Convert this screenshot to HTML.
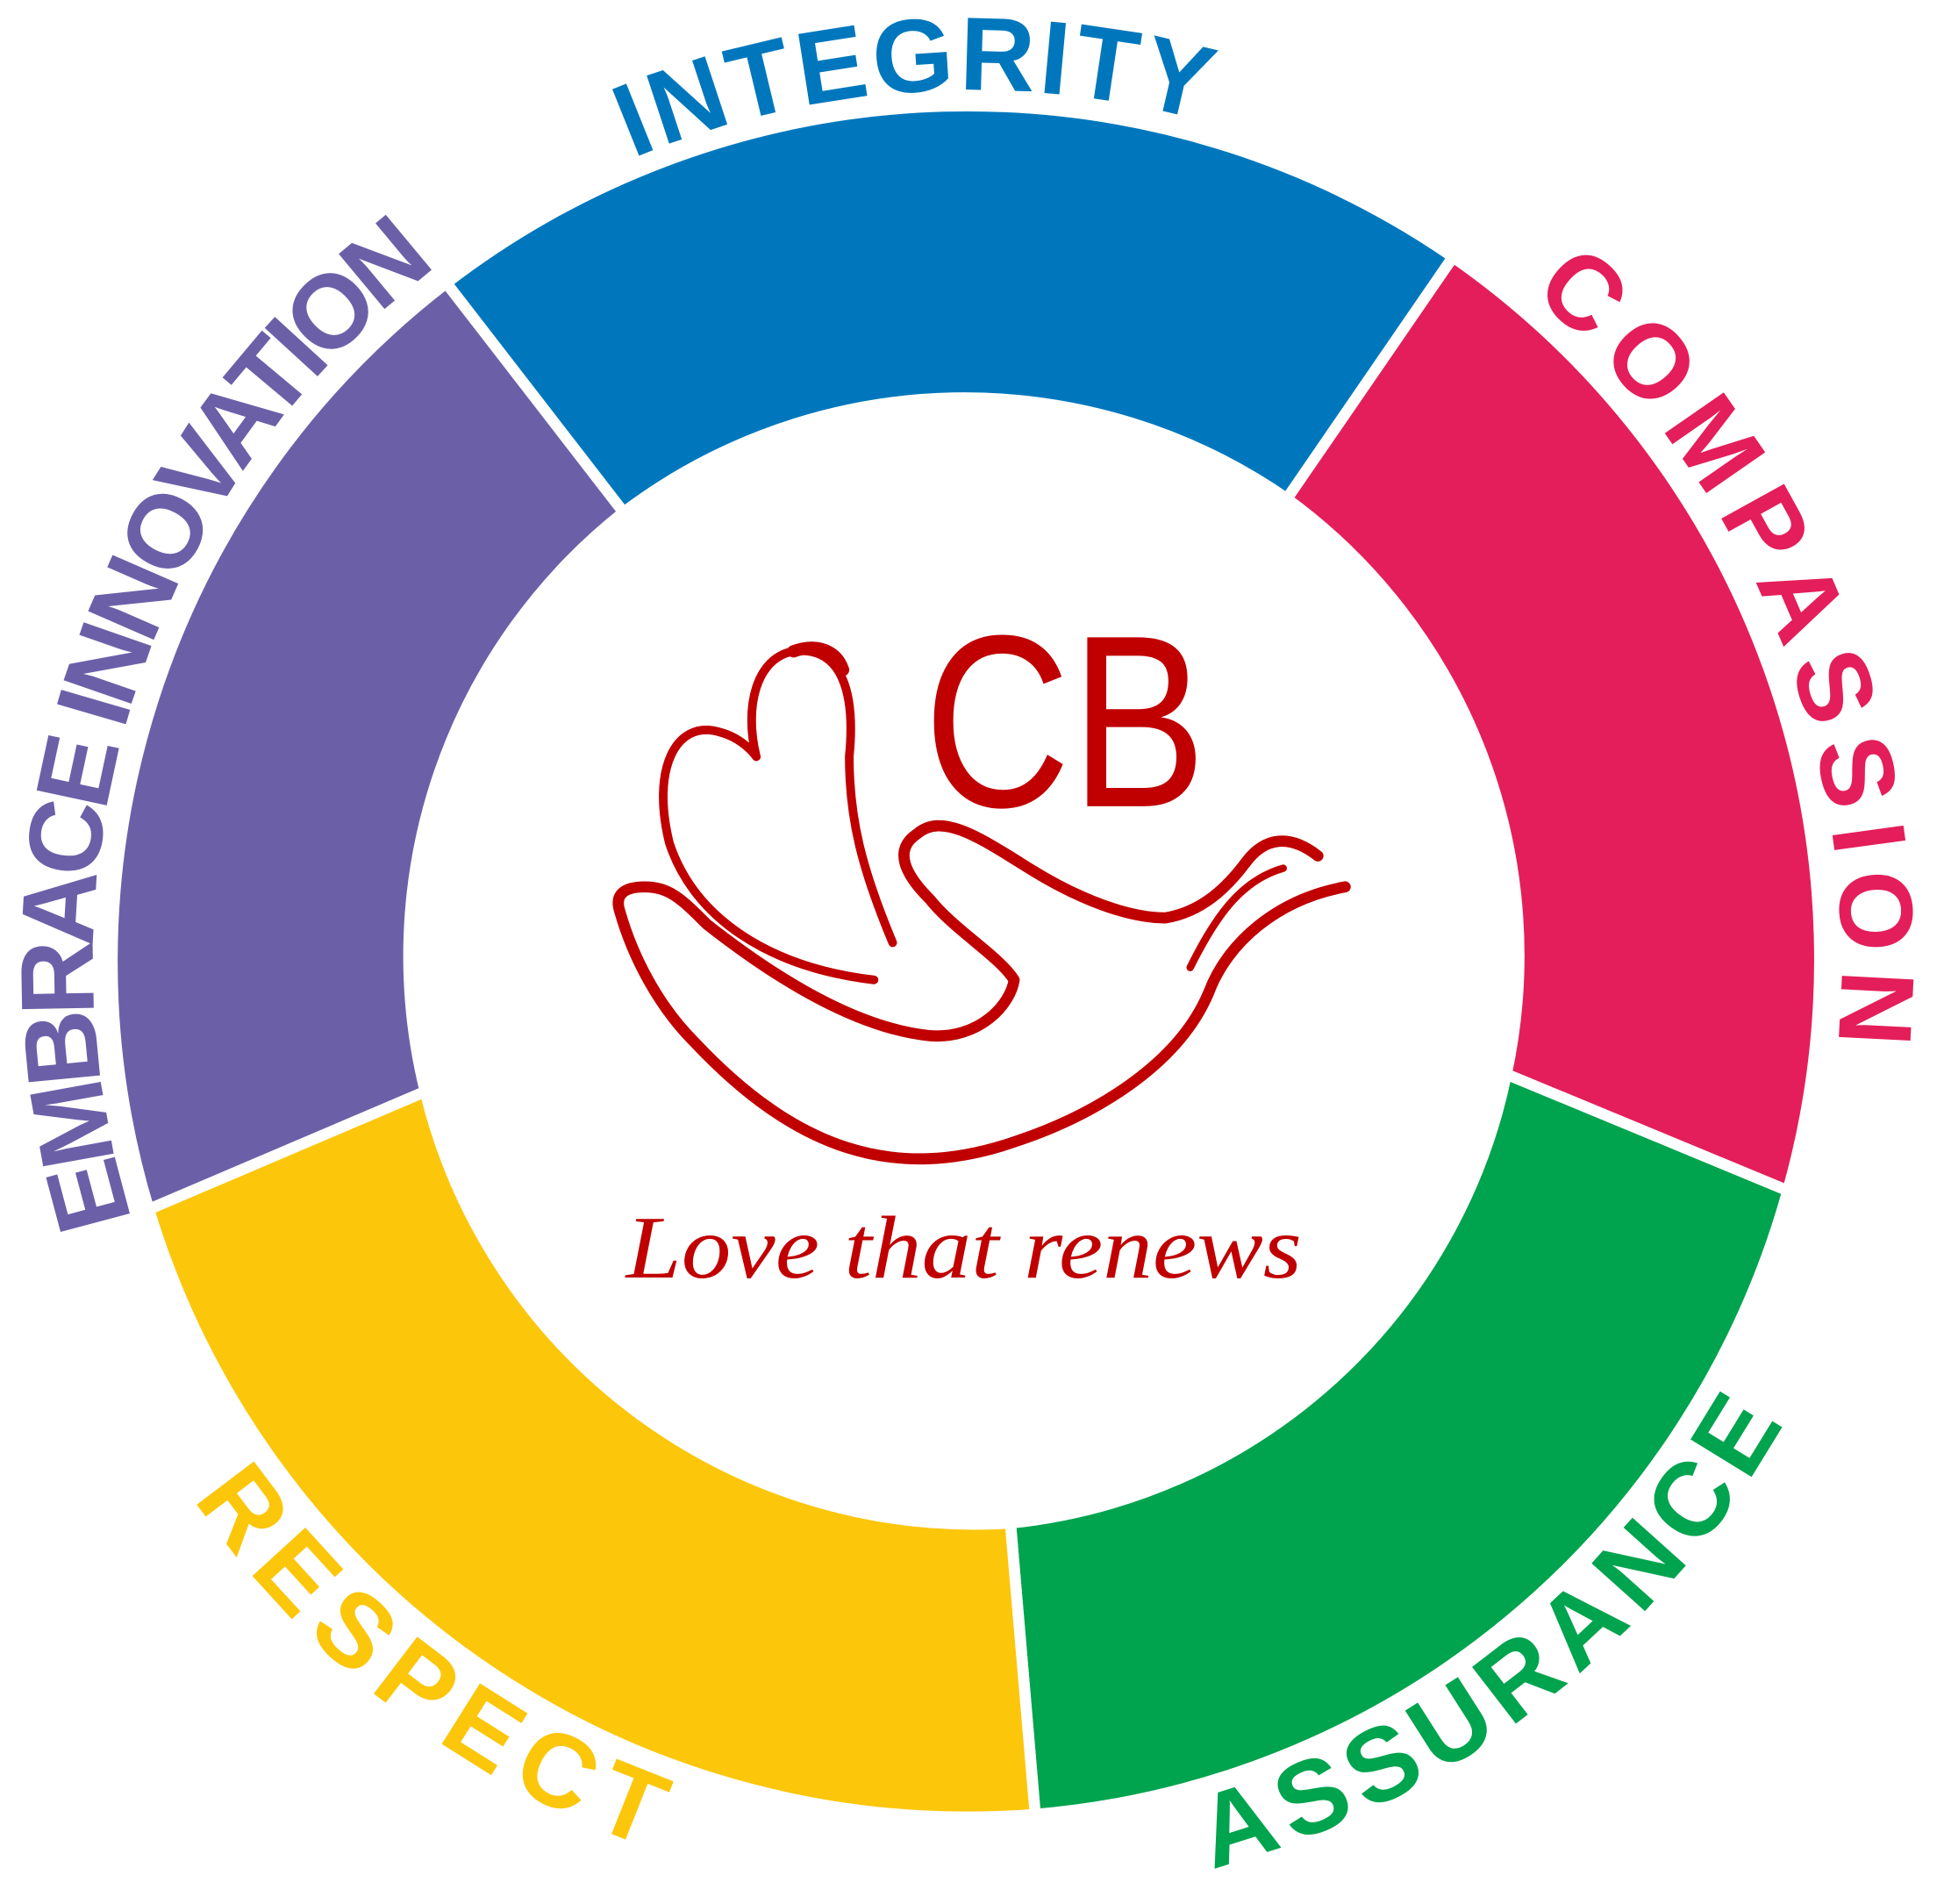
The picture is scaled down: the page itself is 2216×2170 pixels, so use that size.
<!DOCTYPE html>
<html><head><meta charset="utf-8"><style>
html,body{margin:0;padding:0;background:#fff;}
svg{display:block;}
.lbl{font-family:"Liberation Sans",Arial,sans-serif;font-weight:bold;font-size:84px;}
</style></head><body>
<svg width="2216" height="2170" viewBox="0 0 1568 1535" xmlns="http://www.w3.org/2000/svg">
<g stroke="#fff" stroke-width="9" stroke-linejoin="miter">
<path fill="#0077bd" d="M 360 228 A 690 690 0 0 1 1172 207 L 1038 402 A 456 456 0 0 0 503 413 Z"/>
<path fill="#e41e5a" d="M 1172 207 A 690 690 0 0 1 1442 960 L 1215 866 A 456 456 0 0 0 1038 402 Z"/>
<path fill="#00a34e" d="M 1442 960 A 690 690 0 0 1 835 1463 L 815 1228 A 456 456 0 0 0 1215 866 Z"/>
<path fill="#fcc60b" d="M 835 1463 A 690 690 0 0 1 120 975 L 343 880 A 456 456 0 0 0 815 1228 Z"/>
<path fill="#6b60a8" d="M 120 975 A 690 690 0 0 1 360 228 L 503 413 A 456 456 0 0 0 343 880 Z"/>
</g>
<g class="lbl">
<path id="a1" fill="none" d="M 202.5 378.7 A 705 705 0 0 1 1308.7 306.5"/>
<text fill="#0077bd"><textPath href="#a1" startOffset="50%" text-anchor="middle" textLength="470" lengthAdjust="spacing">INTEGRITY</textPath></text>
<path id="a2" fill="none" d="M 1011.5 109.1 A 705 705 0 0 1 1473.8 902.5"/>
<text fill="#e41e5a" transform="rotate(8 780 775)"><textPath href="#a2" startOffset="50%" text-anchor="middle" textLength="680" lengthAdjust="spacing">COMPASSION</textPath></text>
<path id="a3" fill="none" d="M 332.1 1319.4 A 705 705 0 0 1 622.0 88.0"/>
<text fill="#6b60a8" transform="rotate(4.5 780 775)"><textPath href="#a3" startOffset="50%" text-anchor="middle" textLength="860" lengthAdjust="spacing">EMBRACE INNOVATION</textPath></text>
<path id="a4" fill="none" d="M 20.6 803.5 A 760 760 0 0 0 948.9 1515.9"/>
<text fill="#fcc60b"><textPath href="#a4" startOffset="50%" text-anchor="middle" textLength="470" lengthAdjust="spacing">RESPECT</textPath></text>
<path id="a5" fill="none" d="M 420.7 1444.7 A 760 760 0 0 0 1530.2 670.5"/>
<text fill="#00a34e" transform="rotate(-3 780 775)"><textPath href="#a5" startOffset="50%" text-anchor="middle" textLength="600" lengthAdjust="spacing">ASSURANCE</textPath></text>
</g>
<text x="745" y="650" font-family="'Liberation Sans',sans-serif" font-size="198" fill="#c00000" textLength="228" lengthAdjust="spacingAndGlyphs">CB</text>
<g fill="none" stroke="#c00000" stroke-linecap="round" stroke-linejoin="round">
<path stroke-width="7" d="M 705 790 C 620 780 560 740 540 680 C 525 620 545 580 580 590 C 600 595 610 610 610 610 C 600 570 610 530 640 525 C 680 520 690 560 685 610 C 685 660 695 700 720 760"/>
<path stroke-width="10" d="M 640 525 C 660 518 675 525 680 540"/>
<path stroke-width="9" d="M 1085 715 C 1030 725 990 760 975 800 C 950 860 880 900 820 920 C 720 955 640 925 560 840 C 530 810 510 770 500 735 C 495 720 505 715 520 715 C 540 715 550 725 570 745 C 640 800 700 830 750 835 C 790 838 815 810 818 790 C 805 770 770 750 750 725 C 730 705 720 685 740 672 C 760 655 790 675 830 700 C 870 725 910 740 940 740 C 970 735 990 715 1005 695 C 1020 675 1040 672 1063 690"/>
<path stroke-width="6" d="M 1035 700 C 1000 710 980 740 960 780"/>
</g>
<text x="505" y="1030" font-family="'Liberation Serif',serif" font-style="italic" font-size="72" fill="#c00000" textLength="545" lengthAdjust="spacingAndGlyphs">Love that renews</text>
</svg>
</body></html>
